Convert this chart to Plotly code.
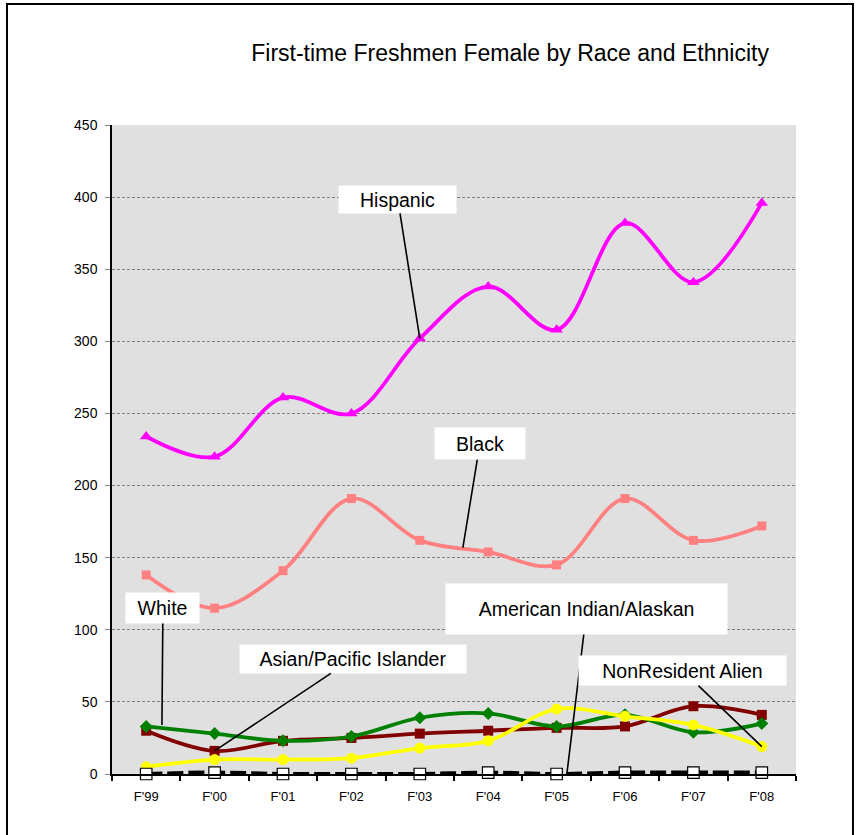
import plotly.graph_objects as go

terms = ["F'99", "F'00", "F'01", "F'02", "F'03", "F'04", "F'05", "F'06", "F'07", "F'08"]

hispanic = [234, 220, 261, 250, 302, 338, 308, 382, 341, 396]
black = [138, 115, 141, 191, 162, 154, 145, 191, 162, 172]
white = [33, 28, 23, 26, 39, 42, 33, 41, 29, 35]
asian = [30, 16, 23, 25, 28, 30, 32, 33, 47, 41]
nonresident = [5, 10, 10, 11, 18, 23, 45, 40, 34, 19]
amer_indian = [0, 1, 0, 0, 0, 1, 0, 1, 1, 1]

y_ticks = [0, 50, 100, 150, 200, 250, 300, 350, 400, 450]

FONT = "Liberation Sans, Arial, sans-serif"

fig = go.Figure()


def add_series(name, values, color, symbol, size, width=3.8, dash="solid", mcolor=None, mline=None):
    fig.add_trace(go.Scatter(
        x=terms,
        y=values,
        name=name,
        mode="lines+markers",
        cliponaxis=False,
        line=dict(color=color, width=width, shape="spline", smoothing=1, dash=dash),
        marker=dict(
            symbol=symbol,
            size=size,
            color=mcolor or color,
            line=mline or dict(width=0)
        )
    ))


add_series("Asian/Pacific Islander", asian, "#800000", "square", 10)
add_series("White", white, "#008000", "diamond", 10)
add_series("NonResident Alien", nonresident, "#FFFF00", "circle", 11)
add_series("Black", black, "#FF8080", "square", 9)
add_series("Hispanic", hispanic, "#FF00FF", "triangle-up", 11)
add_series("American Indian/Alaskan", amer_indian, "#000000", "square", 11.5, width=4,
           dash="16px,5px", mcolor="#FFFFFF", mline=dict(color="#000000", width=1.2))

# callout labels: (text, x index, y, ax, ay, box width, box height)
labels = [
    ("Hispanic", 4, 302, -22, -139, 117, 27),
    ("Black", 4.63, 157, 17, -104, 90, 31),
    ("White", 0.23, 34, 1, -117, 73, 30),
    ("Asian/Pacific Islander", 1, 16, 138, -92, 226, 28),
    ("American Indian/Alaskan", 6.15, 0, 20, -165, 281, 50),
    ("NonResident Alien", 9, 19, -79, -76, 207, 29),
]

for text, x, y, ax, ay, w, h in labels:
    fig.add_annotation(
        x=x,
        y=y,
        xref="x",
        yref="y",
        text=text,
        showarrow=True,
        arrowhead=0,
        arrowwidth=1.6,
        arrowcolor="#000000",
        standoff=0,
        ax=ax,
        ay=ay,
        width=w,
        height=h,
        bgcolor="#FFFFFF",
        borderpad=0,
        font=dict(family=FONT, size=19.5, color="#000000")
    )

# outer chart border
fig.add_shape(
    type="rect",
    xref="paper", yref="paper",
    x0=-0.1535, x1=1.0833, y0=-0.12, y1=1.1865,
    line=dict(color="#000000", width=2),
    fillcolor="rgba(0,0,0,0)",
    layer="above"
)

fig.update_layout(
    width=856,
    height=835,
    paper_bgcolor="#FFFFFF",
    plot_bgcolor="#E0E0E0",
    showlegend=False,
    margin=dict(l=112, r=60, t=125, b=61),
    title=dict(
        text="First-time Freshmen Female by Race and Ethnicity",
        x=0.582,
        xref="paper",
        xanchor="center",
        y=1 - 53 / 835,
        yanchor="middle",
        font=dict(family=FONT, size=23, color="#000000")
    ),
    font=dict(family=FONT, color="#000000")
)

fig.update_xaxes(
    type="category",
    range=[-0.5, 9.5],
    tickson="boundaries",
    ticks="outside",
    ticklen=5,
    tickwidth=1.5,
    tickcolor="#000000",
    ticklabelstandoff=9,
    showline=True,
    linecolor="#000000",
    linewidth=2,
    showgrid=False,
    zeroline=False,
    tickfont=dict(family=FONT, size=13, color="#000000")
)

fig.update_yaxes(
    range=[0, 450],
    tickvals=y_ticks,
    ticks="outside",
    ticklen=5,
    tickcolor="#808080",
    ticklabelstandoff=5,
    showline=True,
    linecolor="#000000",
    linewidth=1.5,
    showgrid=True,
    gridcolor="#808080",
    gridwidth=0.8,
    griddash="3px,2px",
    zeroline=False,
    tickfont=dict(family=FONT, size=14, color="#000000")
)

fig.write_html(
    "out.html",
    config={"displayModeBar": False},
    post_script="document.body.style.margin='0';"
)
